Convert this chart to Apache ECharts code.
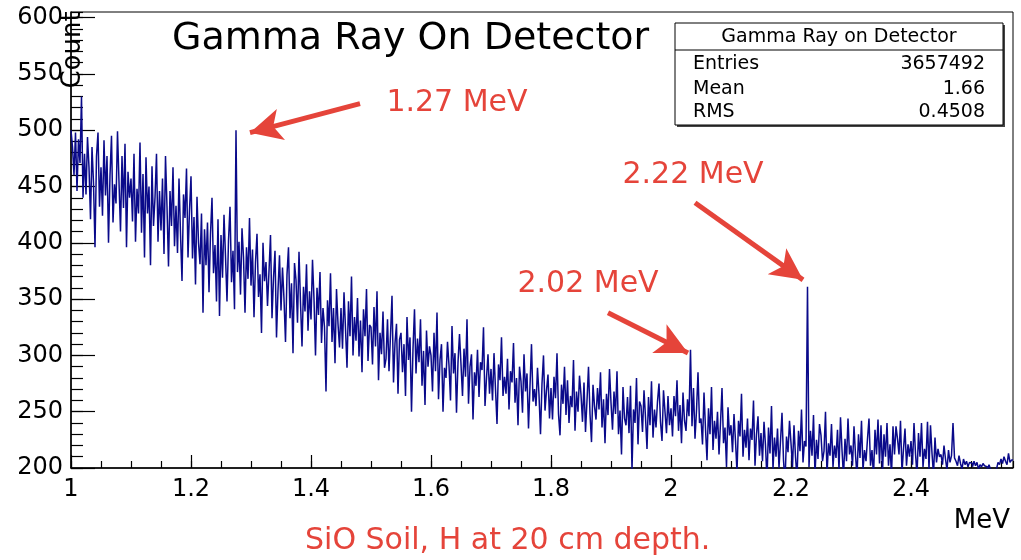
<!DOCTYPE html>
<html>
<head>
<meta charset="utf-8">
<title>Gamma Ray On Detector</title>
<script src="https://cdn.jsdelivr.net/npm/echarts@6/dist/echarts.min.js"></script>
<style>
  html, body { margin: 0; padding: 0; background: #fff; }
  #chart { width: 1021px; height: 560px; }
</style>
</head>
<body>
<div id="chart"></div>
<script>
// Histogram binning (MeV)
const binLow = 1.0;
const binWidth = 0.0025;

// Counts per bin, 1.000 to 2.570 MeV, ten bins (0.025 MeV) per row
const counts = [
  500, 485, 460, 498, 446, 492, 471, 530, 440, 479,   // 1.000
  443, 494, 467, 421, 485, 453, 396, 477, 498, 432,   // 1.025
  467, 424, 491, 442, 477, 400, 460, 495, 418, 452,   // 1.050
  435, 499, 454, 410, 477, 431, 488, 396, 463, 440,   // 1.075
  457, 419, 479, 401, 448, 426, 489, 409, 461, 387,   // 1.100
  476, 426, 450, 380, 468, 415, 440, 479, 401, 446,   // 1.125
  411, 457, 390, 477, 432, 379, 446, 415, 467, 397,   // 1.150
  433, 391, 457, 408, 366, 443, 422, 466, 387, 429,   // 1.175
  459, 386, 423, 363, 441, 400, 381, 426, 338, 412,   // 1.200
  380, 418, 356, 408, 440, 373, 398, 348, 421, 335,   // 1.225
  407, 369, 425, 388, 348, 402, 432, 365, 393, 341,   // 1.250
  500, 374, 401, 354, 413, 387, 338, 396, 368, 422,   // 1.275  (1.27 MeV line)
  362, 394, 334, 383, 408, 352, 372, 320, 400, 366,   // 1.300
  383, 344, 375, 407, 333, 369, 393, 316, 358, 389,   // 1.325
  340, 378, 350, 312, 372, 396, 333, 364, 302, 382,   // 1.350
  367, 329, 392, 347, 308, 361, 339, 381, 322, 357,   // 1.375
  332, 385, 350, 300, 360, 336, 374, 311, 342, 325,   // 1.400
  268, 349, 326, 373, 312, 342, 293, 359, 328, 307,   // 1.425
  342, 306, 356, 324, 289, 348, 317, 370, 300, 334,   // 1.450
  313, 351, 299, 331, 285, 341, 317, 359, 295, 327,   // 1.475
  325, 292, 343, 308, 357, 278, 320, 301, 339, 289,   // 1.500
  297, 332, 286, 318, 353, 276, 311, 328, 266, 314,   // 1.525
  320, 285, 310, 264, 334, 296, 316, 250, 306, 341,   // 1.550
  284, 315, 294, 332, 273, 304, 256, 322, 290, 308,   // 1.575
  300, 268, 320, 286, 338, 261, 296, 310, 250, 289,   // 1.600
  280, 312, 291, 260, 326, 284, 302, 249, 294, 319,   // 1.625
  292, 264, 306, 281, 332, 257, 290, 301, 243, 285,   // 1.650
  273, 305, 263, 294, 287, 325, 255, 280, 301, 266,   // 1.675
  288, 260, 302, 270, 239, 292, 278, 316, 264, 281,   // 1.700
  266, 297, 252, 286, 276, 311, 258, 280, 238, 290,   // 1.725
  277, 249, 301, 268, 284, 235, 273, 310, 259, 270,   // 1.750
  255, 289, 265, 230, 275, 300, 251, 269, 283, 244,   // 1.775
  271, 243, 281, 262, 302, 248, 229, 274, 257, 290,   // 1.800
  247, 278, 240, 264, 254, 296, 233, 268, 250, 282,   // 1.825
  265, 241, 276, 232, 260, 290, 248, 223, 274, 255,   // 1.850
  243, 271, 252, 285, 236, 261, 222, 266, 247, 288,   // 1.875
  258, 234, 268, 248, 286, 230, 251, 212, 272, 244,   // 1.900
  238, 263, 231, 273, 198, 252, 240, 280, 221, 259,   // 1.925
  255, 232, 269, 245, 217, 263, 238, 277, 227, 252,   // 1.950
  236, 259, 275, 241, 224, 269, 250, 231, 264, 238,   // 1.975
  253, 228, 264, 246, 278, 233, 256, 222, 267, 242,   // 2.000
  233, 261, 246, 305, 237, 271, 226, 251, 285, 240,   // 2.025  (2.02 MeV line)
  244, 221, 267, 235, 207, 253, 230, 272, 216, 242,   // 2.050
  226, 250, 212, 240, 271, 222, 236, 201, 254, 229,   // 2.075
  238, 214, 248, 224, 196, 242, 228, 266, 210, 234,   // 2.100
  218, 244, 207, 235, 225, 260, 202, 230, 246, 211,   // 2.125
  231, 206, 241, 220, 189, 236, 213, 255, 199, 227,   // 2.150
  210, 235, 200, 224, 249, 207, 187, 228, 214, 242,   // 2.175
  222, 201, 238, 210, 191, 233, 215, 252, 205, 224,   // 2.200
  219, 361, 201, 233, 211, 247, 194, 225, 208, 239,   // 2.225  (2.22 MeV line)
  229, 206, 215, 250, 194, 222, 211, 239, 201, 220,   // 2.250
  209, 234, 198, 245, 216, 192, 226, 206, 244, 212,   // 2.275
  220, 202, 237, 212, 192, 230, 209, 242, 198, 216,   // 2.300
  206, 226, 244, 202, 216, 192, 234, 212, 243, 204,   // 2.325
  238, 196, 230, 210, 240, 202, 221, 193, 237, 212,   // 2.350
  237, 226, 212, 242, 196, 217, 235, 202, 221, 210,   // 2.375
  224, 203, 240, 213, 193, 231, 210, 240, 201, 217,   // 2.400
  208, 241, 199, 238, 213, 194, 227, 205, 217, 210,   // 2.425
  212, 203, 220, 208, 198, 216, 205, 211, 240, 209,   // 2.450
  206, 202, 211, 204, 199, 208, 203, 206, 201, 205,   // 2.475
  204, 201, 206, 202, 205, 199, 203, 201, 204, 202,   // 2.500
  201, 199, 203, 199, 198, 199, 199, 198, 205, 203,   // 2.525
  208, 204, 210, 206, 203, 213, 205, 207              // 2.550
];

// Axis ranges and ticks
const xRange = [1.0, 2.57];
const yRange = [200, 605];
const xMajor = 0.2, xMinor = 0.05;
const yMajor = 50, yMinor = 10;

// Line annotations: label text, label anchor, arrow tail, arrow tip (MeV, counts)
const annotations = [
  { text: '1.27 MeV', label: [1.6433, 523.6], tail: [1.4817, 523.6], head: [1.2983, 497.8] },
  { text: '2.22 MeV', label: [2.0367, 460.4], tail: [2.04, 435.6], head: [2.22, 367.1] },
  { text: '2.02 MeV', label: [1.8617, 363.6], tail: [1.895, 337.8], head: [2.0283, 302.2] }
];

// Statistics box
const statsTitle = 'Gamma Ray on Detector';
const statsNames = ['Entries', 'Mean', 'RMS'];
const statsValues = ['3657492', '1.66', '0.4508'];

const chartTitle = 'Gamma Ray On Detector';
const caption = 'SiO Soil, H at 20 cm depth.';
const xName = 'MeV';
const yName = 'Count';

// Step-line points at bin lower edges, closed at the upper edge of the last bin
const histPoints = counts.map((c, i) => [+(binLow + i * binWidth).toFixed(4), c]);
histPoints.push([+(binLow + counts.length * binWidth).toFixed(4), counts[counts.length - 1]]);

const FONT = 'DejaVu Sans';
const RED = '#e5443a';
const BLUE = '#0a0a8a';

const chart = echarts.init(document.getElementById('chart'), null, { renderer: 'canvas' });

function txt(x, y, text, size, color, align, extra) {
  return Object.assign({
    type: 'text', z: 102, x: x, y: y,
    style: {
      text: text, font: size + 'px "' + FONT + '"', fill: color,
      align: align, verticalAlign: 'middle', textAlign: align, textVerticalAlign: 'middle'
    }
  }, extra || {});
}

const statsGraphics = [
  { type: 'rect', z: 100, shape: { x: 677, y: 25, width: 328, height: 102 }, style: { fill: '#444' } },
  { type: 'rect', z: 101, shape: { x: 675, y: 23, width: 328, height: 102 }, style: { fill: '#fff', stroke: '#000', lineWidth: 1 } },
  { type: 'line', z: 102, shape: { x1: 675, y1: 50, x2: 1003, y2: 50 }, style: { stroke: '#000', lineWidth: 1 } },
  txt(839, 37, statsTitle, 19, '#000', 'center')
];
const rowY = [64, 89, 112.5];
statsNames.forEach((n, i) => {
  statsGraphics.push(txt(693, rowY[i], n, 19, '#000', 'left'));
  statsGraphics.push(txt(985, rowY[i], statsValues[i], 19, '#000', 'right'));
});

const option = {
  animation: false,
  backgroundColor: '#fff',
  textStyle: { fontFamily: FONT },
  grid: { left: 71, right: 8, top: 12, bottom: 92, show: true, borderColor: '#000', borderWidth: 1, backgroundColor: 'transparent', containLabel: false },
  xAxis: [
    {
      type: 'value', min: xRange[0], max: xRange[1], interval: xMajor, position: 'bottom',
      axisLine: { show: true, onZero: false, lineStyle: { color: '#000', width: 1.5 } },
      axisTick: { show: true, inside: true, length: 13, lineStyle: { color: '#000', width: 1.2 } },
      axisLabel: { color: '#000', fontSize: 24, fontFamily: FONT, margin: 10, showMaxLabel: false },
      splitLine: { show: false }
    },
    {
      type: 'value', min: xRange[0], max: xRange[1], interval: xMinor, position: 'bottom',
      axisLine: { show: false, onZero: false },
      axisTick: { show: true, inside: true, length: 7, lineStyle: { color: '#000', width: 1.2 } },
      axisLabel: { show: false },
      splitLine: { show: false }
    }
  ],
  yAxis: [
    {
      type: 'value', min: yRange[0], max: yRange[1], interval: yMajor, position: 'left',
      axisLine: { show: true, onZero: false, lineStyle: { color: '#000', width: 1.5 } },
      axisTick: { show: true, inside: true, length: 24, lineStyle: { color: '#000', width: 1.2 } },
      axisLabel: { color: '#000', fontSize: 24, fontFamily: FONT, margin: 8, showMaxLabel: false },
      splitLine: { show: false }
    },
    {
      type: 'value', min: yRange[0], max: yRange[1], interval: yMinor, position: 'left',
      axisLine: { show: false, onZero: false },
      axisTick: { show: true, inside: true, length: 12, lineStyle: { color: '#000', width: 1.2 } },
      axisLabel: { show: false },
      splitLine: { show: false }
    }
  ],
  series: [
    {
      type: 'line',
      name: 'Gamma Ray on Detector',
      xAxisIndex: 0,
      yAxisIndex: 0,
      step: 'end',
      data: histPoints,
      showSymbol: false,
      symbol: 'none',
      clip: true,
      lineStyle: { color: BLUE, width: 1.5 },
      z: 5,
      markLine: {
        silent: true,
        symbol: ['none', 'arrow'],
        symbolSize: [24, 32],
        label: { show: false },
        lineStyle: { color: RED, width: 5, type: 'solid' },
        emphasis: { disabled: true },
        data: annotations.map(a => [
          { coord: a.tail, lineStyle: { color: RED, width: 5 }, itemStyle: { color: RED } },
          { coord: a.head, itemStyle: { color: RED } }
        ])
      },
      markPoint: {
        silent: true,
        symbolSize: 0,
        data: annotations.map(a => ({
          coord: a.label,
          label: {
            show: true, position: 'inside', formatter: a.text,
            color: RED, fontSize: 30, fontFamily: FONT
          }
        }))
      }
    }
  ],
  graphic: [
    txt(172, 39, chartTitle, 38, '#000', 'left', { z: 100 }),
    txt(73, 50, yName, 26, '#000', 'center', { z: 100, rotation: Math.PI / 2 }),
    txt(1010, 521, xName, 26, '#000', 'right', { z: 100 }),
    txt(305, 541, caption, 30, RED, 'left', { z: 100 })
  ].concat(statsGraphics)
};

chart.setOption(option);
</script>
</body>
</html>
